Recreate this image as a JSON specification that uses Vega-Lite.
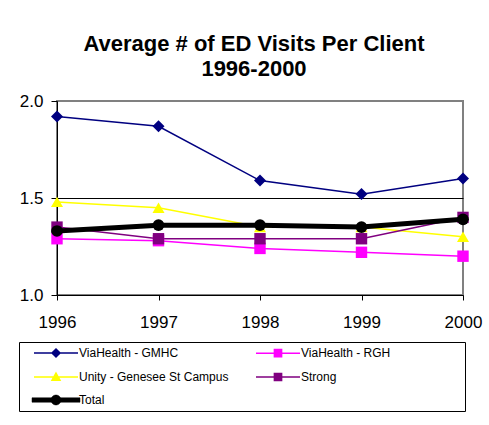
{
  "$schema": "https://vega.github.io/schema/vega-lite/v6.json",
  "width": 406,
  "height": 194,
  "autosize": {"type": "none"},
  "padding": {"left": 57, "top": 101, "right": 26, "bottom": 130},
  "background": "white",
  "config": {
    "font": "Liberation Sans",
    "view": {"stroke": "#808080", "strokeWidth": 2},
    "axis": {
      "labelFont": "Liberation Sans",
      "labelColor": "black",
      "domainColor": "black",
      "tickColor": "black",
      "labelFontSize": 17,
      "title": null
    }
  },
  "title": {
    "text": ["Average # of ED Visits Per Client", "1996-2000"],
    "font": "Liberation Sans",
    "fontSize": 22,
    "fontWeight": "bold",
    "lineHeight": 25,
    "offset": 11,
    "dx": -6,
    "anchor": "middle",
    "color": "black"
  },
  "data": {
    "values": [
      {"year": "1996", "series": "ViaHealth - GMHC", "value": 1.92},
      {"year": "1997", "series": "ViaHealth - GMHC", "value": 1.87},
      {"year": "1998", "series": "ViaHealth - GMHC", "value": 1.59},
      {"year": "1999", "series": "ViaHealth - GMHC", "value": 1.52},
      {"year": "2000", "series": "ViaHealth - GMHC", "value": 1.60},
      {"year": "1996", "series": "ViaHealth - RGH", "value": 1.29},
      {"year": "1997", "series": "ViaHealth - RGH", "value": 1.28},
      {"year": "1998", "series": "ViaHealth - RGH", "value": 1.24},
      {"year": "1999", "series": "ViaHealth - RGH", "value": 1.22},
      {"year": "2000", "series": "ViaHealth - RGH", "value": 1.20},
      {"year": "1996", "series": "Unity - Genesee St Campus", "value": 1.48},
      {"year": "1997", "series": "Unity - Genesee St Campus", "value": 1.45},
      {"year": "1998", "series": "Unity - Genesee St Campus", "value": 1.35},
      {"year": "1999", "series": "Unity - Genesee St Campus", "value": 1.35},
      {"year": "2000", "series": "Unity - Genesee St Campus", "value": 1.30},
      {"year": "1996", "series": "Strong", "value": 1.35},
      {"year": "1997", "series": "Strong", "value": 1.29},
      {"year": "1998", "series": "Strong", "value": 1.29},
      {"year": "1999", "series": "Strong", "value": 1.29},
      {"year": "2000", "series": "Strong", "value": 1.40},
      {"year": "1996", "series": "Total", "value": 1.33},
      {"year": "1997", "series": "Total", "value": 1.36},
      {"year": "1998", "series": "Total", "value": 1.36},
      {"year": "1999", "series": "Total", "value": 1.35},
      {"year": "2000", "series": "Total", "value": 1.39}
    ]
  },
  "encoding": {
    "x": {
      "field": "year",
      "type": "ordinal",
      "scale": {"type": "point", "padding": 0},
      "axis": {"labelAngle": 0, "tickSize": 5, "labelPadding": 14, "grid": false, "domainWidth": 1}
    },
    "y": {
      "field": "value",
      "type": "quantitative",
      "scale": {"domain": [1, 2], "nice": false, "zero": false},
      "axis": {
        "values": [1, 1.5, 2],
        "format": ".1f",
        "tickSize": 6,
        "labelPadding": 8,
        "grid": true,
        "gridColor": {"condition": {"test": "datum.value == 1.5", "value": "black"}, "value": "transparent"},
        "gridWidth": 1
      }
    },
    "color": {
      "field": "series",
      "type": "nominal",
      "scale": {
        "domain": ["ViaHealth - GMHC", "ViaHealth - RGH", "Unity - Genesee St Campus", "Strong", "Total"],
        "range": ["#000080", "#FF00FF", "#FFFF00", "#800080", "#000000"]
      },
      "legend": {
        "title": null,
        "orient": "none",
        "legendX": -38,
        "legendY": 241,
        "columns": 2,
        "direction": "horizontal",
        "padding": 5,
        "strokeColor": "black",
        "fillColor": "white",
        "labelFont": "Liberation Sans",
        "labelFontSize": 12,
        "labelColor": "black",
        "symbolSize": 64,
        "symbolOffset": 26,
        "labelOffset": 17,
        "rowPadding": 10,
        "columnPadding": 17,
        "encoding": {
          "symbols": {
            "shape": {"value": {"expr": "datum.value === 'ViaHealth - GMHC' ? 'M-5.5,0H5.5M0,-1L1,0L0,1L-1,0Z' : datum.value === 'ViaHealth - RGH' ? 'M-5.5,0H5.5M-0.9,-0.9H0.9V0.9H-0.9ZM44.75,0' : datum.value === 'Unity - Genesee St Campus' ? 'M-5.5,0H5.5M0,-1L1,0.8H-1Z' : datum.value === 'Strong' ? 'M-5.5,0H5.5M-0.9,-0.9H0.9V0.9H-0.9ZM44.75,0' : 'M-6,-0.55H6V0.55H-6ZM1.25,0A1.25,1.25,0,1,1,-1.25,0A1.25,1.25,0,1,1,1.25,0Z'"}},
            "size": {"value": 64},
            "fill": {"value": {"expr": "scale('color', datum.value)"}},
            "stroke": {"value": {"expr": "scale('color', datum.value)"}},
            "strokeWidth": {"value": {"expr": "datum.value === 'Total' ? 0.5 : 1.5"}},
            "opacity": {"value": 1}
          }
        }
      }
    }
  },
  "layer": [
    {
      "transform": [{"filter": "datum.series !== 'Total'"}],
      "mark": {"type": "line", "strokeWidth": 1.5}
    },
    {
      "transform": [{"filter": "datum.series === 'ViaHealth - GMHC'"}],
      "mark": {"type": "point", "filled": true, "size": 144, "opacity": 1, "shape": "diamond"}
    },
    {
      "transform": [{"filter": "datum.series === 'ViaHealth - RGH'"}],
      "mark": {"type": "point", "filled": true, "size": 130, "opacity": 1, "shape": "square"}
    },
    {
      "transform": [{"filter": "datum.series === 'Unity - Genesee St Campus'"}],
      "mark": {"type": "point", "filled": true, "size": 144, "opacity": 1, "shape": "triangle-up"}
    },
    {
      "transform": [{"filter": "datum.series === 'Strong'"}],
      "mark": {"type": "point", "filled": true, "size": 130, "opacity": 1, "shape": "square"}
    },
    {
      "transform": [{"filter": "datum.series === 'Total'"}],
      "mark": {"type": "line", "strokeWidth": 5}
    },
    {
      "transform": [{"filter": "datum.series === 'Total'"}],
      "mark": {"type": "point", "filled": true, "size": 137, "opacity": 1, "shape": "circle"}
    }
  ]
}
